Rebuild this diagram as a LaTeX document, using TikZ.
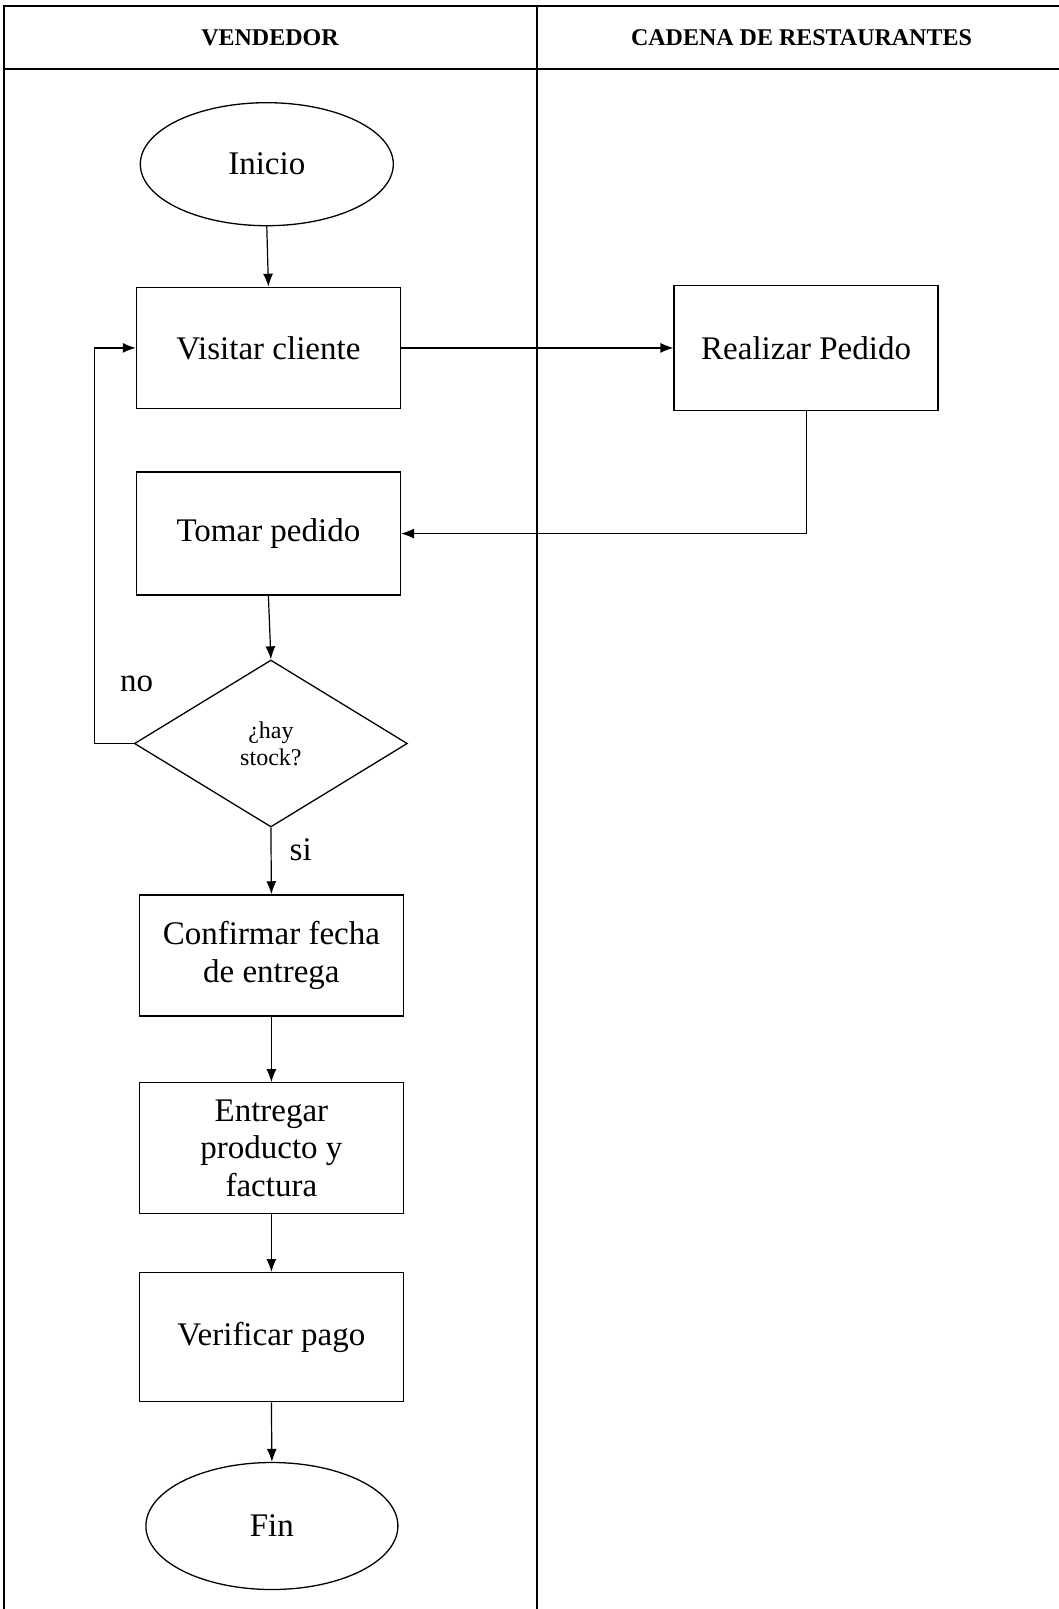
\documentclass[tikz,border=0pt]{standalone}
\usepackage{fontspec}
\setmainfont{Liberation Serif}
\usetikzlibrary{arrows.meta,shapes.geometric}
\begin{document}
\begin{tikzpicture}[x=1pt,y=-1pt,
  box/.style={draw, line width=1.3pt, minimum width=264pt, inner sep=0pt, align=center, font=\fontsize{33}{37.5}\selectfont},
  term/.style={draw, ellipse, line width=1.3pt, inner sep=0pt, font=\fontsize{33}{37}\selectfont},
  dec/.style={draw, diamond, line width=1.3pt, inner sep=0pt, minimum width=273pt, minimum height=167pt, align=center, font=\fontsize{24}{27}\selectfont},
  arr/.style={line width=1.2pt, -{Latex[length=13pt,width=10pt]}},
  lane/.style={line width=2pt},
  hdr/.style={font=\fontsize{24}{28}\selectfont\bfseries},
  lbl/.style={font=\fontsize{33}{37}\selectfont}
]
\useasboundingbox (0,0) rectangle (1059,1609);
\clip (0,0) rectangle (1059,1609);
% lanes
\draw[lane] (4,6) rectangle (1075,1625);
\draw[lane] (4,68.8) -- (1075,68.8);
\draw[lane] (536.7,6) -- (536.7,1625);
\node[hdr] (h1) at (270,38) {VENDEDOR};
\node[hdr] (h2) at (801.5,38) {CADENA DE RESTAURANTES};
% nodes
\node[term, minimum width=253pt, minimum height=123pt] (ini) at (266.8,164.2) {Inicio};
\node[box, minimum height=121pt] (vis) at (268.4,347.9) {Visitar cliente};
\node[box, minimum height=125pt] (rea) at (806.1,347.9) {Realizar Pedido};
\node[box, minimum height=123pt] (tom) at (268.4,533.6) {Tomar pedido};
\node[dec] (dia) at (270.9,743.5) {¿hay\\stock?};
\node[box, minimum height=121pt] (con) at (271.4,955.4) {Confirmar fecha\\de entrega};
\node[box, minimum height=131pt] (ent) at (271.4,1148.3) {Entregar\\producto y\\factura};
\node[box, minimum height=129pt] (ver) at (271.4,1337.2) {Verificar pago};
\node[term, minimum width=252pt, minimum height=127pt] (fin) at (271.9,1526) {Fin};
\node[lbl] (no) at (136.5,683.4) {no};
\node[lbl] (si) at (300.7,849.7) {si};
% connectors
\draw[arr] (ini.south) -- (vis.north);
\draw[arr] (vis.east) -- (rea.west);
\draw[arr] (rea.south) |- (tom.east);
\draw[arr] (tom.south) -- (dia.north);
\draw[arr] (dia.west) -- ++(-39,0) |- (vis.west);
\draw[arr] (dia.south) -- (con.north);
\draw[arr] (con.south) -- (ent.north);
\draw[arr] (ent.south) -- (ver.north);
\draw[arr] (ver.south) -- (fin.north);
\end{tikzpicture}
\end{document}
